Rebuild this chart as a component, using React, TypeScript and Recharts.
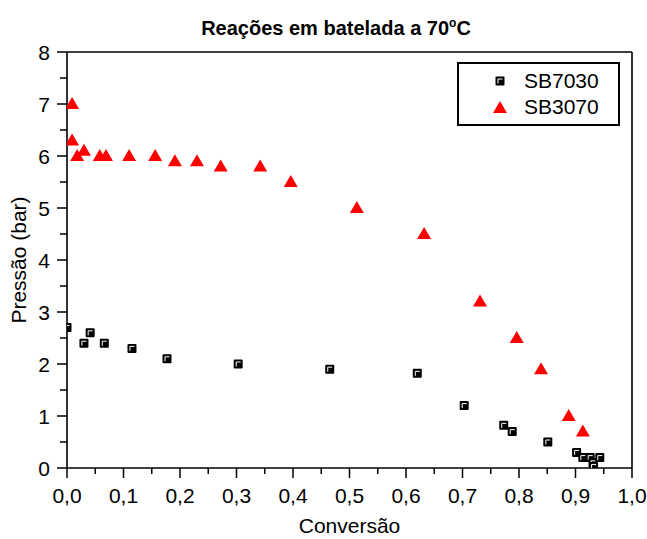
import { ScatterChart, Scatter, XAxis, YAxis, Legend } from 'recharts';

// SB7030 (black squares)
const sb7030Conv = [0.0, 0.03, 0.041, 0.066, 0.115, 0.177, 0.303, 0.465, 0.62, 0.703, 0.773, 0.788, 0.851, 0.902, 0.913, 0.926, 0.931, 0.932, 0.943];
const sb7030Press = [2.7, 2.4, 2.6, 2.4, 2.3, 2.1, 2.0, 1.9, 1.82, 1.2, 0.82, 0.7, 0.5, 0.3, 0.2, 0.2, 0.1, 0.03, 0.2];

// SB3070 (red triangles)
const sb3070Conv = [0.009, 0.009, 0.018, 0.03, 0.058, 0.069, 0.11, 0.156, 0.191, 0.23, 0.272, 0.342, 0.396, 0.513, 0.632, 0.731, 0.796, 0.839, 0.888, 0.913];
const sb3070Press = [7.0, 6.3, 6.0, 6.1, 6.0, 6.0, 6.0, 6.0, 5.9, 5.9, 5.8, 5.8, 5.5, 5.0, 4.5, 3.2, 2.5, 1.9, 1.0, 0.7];

const seriesNames = ['SB7030', 'SB3070'];

const xMajorTicks = [0, 0.1, 0.2, 0.3, 0.4, 0.5, 0.6, 0.7, 0.8, 0.9, 1.0];
const xMinorTicks = [0.05, 0.15, 0.25, 0.35, 0.45, 0.55, 0.65, 0.75, 0.85, 0.95];
const yMajorTicks = [0, 1, 2, 3, 4, 5, 6, 7, 8];
const yMinorTicks = [0.5, 1.5, 2.5, 3.5, 4.5, 5.5, 6.5, 7.5];

const xTicks = [...xMajorTicks, ...xMinorTicks].sort((a, b) => a - b);
const yTicks = [...yMajorTicks, ...yMinorTicks].sort((a, b) => a - b);

const sb7030 = sb7030Conv.map((c, i) => ({ conv: c, press: sb7030Press[i] }));
const sb3070 = sb3070Conv.map((c, i) => ({ conv: c, press: sb3070Press[i] }));

const FONT = 'Arial, "Liberation Sans", sans-serif';

const isMajor = (v: number, list: number[]) => list.some((m) => Math.abs(m - v) < 1e-6);
const fmt = (v: number) => v.toFixed(1).replace('.', ',');

const BottomTick = (props: any) => {
  const { x, y, payload } = props;
  const major = isMajor(payload.value, xMajorTicks);
  return (
    <g>
      <line x1={x} y1={y} x2={x} y2={y + (major ? 10 : 6)} stroke="#000" strokeWidth={1.5} />
      {major && (
        <text x={x} y={y + 35} textAnchor="middle" fontSize={21} fontFamily={FONT} fill="#000">
          {fmt(payload.value)}
        </text>
      )}
    </g>
  );
};

const LeftTick = (props: any) => {
  const { x, y, payload } = props;
  const major = isMajor(payload.value, yMajorTicks);
  return (
    <g>
      <line x1={x - (major ? 10 : 7)} y1={y} x2={x} y2={y} stroke="#000" strokeWidth={1.5} />
      {major && (
        <text x={x - 17} y={y + 7.5} textAnchor="end" fontSize={21} fontFamily={FONT} fill="#000">
          {payload.value}
        </text>
      )}
    </g>
  );
};

const TopTick = (props: any) => {
  const { x, y } = props;
  return <line x1={x} y1={y} x2={x} y2={y + 5} stroke="#000" strokeWidth={1.2} />;
};

const RightTick = (props: any) => {
  const { x, y } = props;
  return <line x1={x - 5} y1={y} x2={x} y2={y} stroke="#000" strokeWidth={1.2} />;
};

const XTitle = (props: any) => {
  const vb = props.viewBox || {};
  return (
    <text x={vb.x + vb.width / 2} y={533} textAnchor="middle" fontSize={21} fontFamily={FONT} fill="#000">
      Conversão
    </text>
  );
};

const YTitle = (props: any) => {
  const vb = props.viewBox || {};
  const cy = vb.y + vb.height / 2;
  return (
    <text transform={`translate(26,${cy}) rotate(-90)`} textAnchor="middle" fontSize={21} fontFamily={FONT} fill="#000">
      Pressão (bar)
    </text>
  );
};

const SquareMark = (props: any) => {
  const { cx, cy } = props;
  if (cx == null || cy == null) return null;
  return (
    <g>
      <rect x={cx - 4.5} y={cy - 4.5} width={9} height={9} rx={1} fill="#000" />
      <path d={`M${cx - 2} ${cy + 2.5}V${cy - 2}H${cx + 2.5}`} stroke="#fff" strokeWidth={1} fill="none" />
    </g>
  );
};

const TriangleMark = (props: any) => {
  const { cx, cy } = props;
  if (cx == null || cy == null) return null;
  return <polygon points={`${cx},${cy - 7} ${cx - 7},${cy + 5} ${cx + 7},${cy + 5}`} fill="#ff0000" />;
};

const LegendBox = (props: any) => {
  const items = [...(props.payload || [])].sort(
    (a: any, b: any) => seriesNames.indexOf(a.value) - seriesNames.indexOf(b.value)
  );
  return (
    <div
      style={{
        width: 159,
        height: 60,
        border: '2px solid #000',
        background: '#fff',
        position: 'relative',
        fontFamily: FONT,
        fontSize: 21,
        color: '#000',
      }}
    >
      {items.map((it: any, i: number) => (
        <div key={it.value} style={{ position: 'absolute', left: 33, top: 4 + i * 26, height: 26, display: 'flex', alignItems: 'center' }}>
          <svg width={16} height={16} style={{ marginRight: 16 }}>
            {it.value === seriesNames[0] ? <SquareMark cx={8} cy={8} /> : <TriangleMark cx={8} cy={9} />}
          </svg>
          <span>{it.value}</span>
        </div>
      ))}
    </div>
  );
};

export default function App() {
  return (
    <div style={{ position: 'absolute', left: 0, top: 0, width: 647, height: 539, background: '#fff', fontFamily: FONT }}>
      <div
        style={{
          position: 'absolute',
          left: 336,
          top: 13,
          transform: 'translateX(-50%)',
          whiteSpace: 'nowrap',
          fontWeight: 'bold',
          fontSize: 20,
          lineHeight: '20px',
          color: '#000',
        }}
      >
        Reações em batelada a 70<span style={{ fontSize: 12, verticalAlign: 8 }}>o</span>C
      </div>
      <ScatterChart width={647} height={539} margin={{ top: 50, right: 13, bottom: 0, left: 0 }}>
        <XAxis
          xAxisId="bottom"
          type="number"
          dataKey="conv"
          domain={[0, 1]}
          allowDataOverflow
          ticks={xTicks}
          interval={0}
          height={71}
          tickSize={0}
          tickMargin={0}
          tick={<BottomTick />}
          axisLine={{ stroke: '#000', strokeWidth: 1.6 }}
          label={<XTitle />}
        />
        <XAxis
          xAxisId="top"
          orientation="top"
          type="number"
          dataKey="conv"
          domain={[0, 1]}
          ticks={xTicks}
          interval={0}
          height={2}
          tickSize={0}
          tickMargin={0}
          tick={<TopTick />}
          axisLine={{ stroke: '#000', strokeWidth: 1.6 }}
        />
        <YAxis
          yAxisId="left"
          type="number"
          dataKey="press"
          domain={[0, 8]}
          allowDataOverflow
          ticks={yTicks}
          interval={0}
          width={67}
          tickSize={0}
          tickMargin={0}
          tick={<LeftTick />}
          axisLine={{ stroke: '#000', strokeWidth: 1.6 }}
          label={<YTitle />}
        />
        <YAxis
          yAxisId="right"
          orientation="right"
          type="number"
          dataKey="press"
          domain={[0, 8]}
          ticks={yTicks}
          interval={0}
          width={2}
          tickSize={0}
          tickMargin={0}
          tick={<RightTick />}
          axisLine={{ stroke: '#000', strokeWidth: 1.6 }}
        />
        <Legend
          layout="horizontal"
          verticalAlign="middle"
          align="center"
          content={<LegendBox />}
          wrapperStyle={{ left: 457, top: 62, width: 163, height: 64 }}
        />
        <Scatter name="SB7030" data={sb7030} xAxisId="bottom" yAxisId="left" shape={<SquareMark />} isAnimationActive={false} />
        <Scatter name="SB3070" data={sb3070} xAxisId="bottom" yAxisId="left" shape={<TriangleMark />} isAnimationActive={false} />
      </ScatterChart>
    </div>
  );
}
